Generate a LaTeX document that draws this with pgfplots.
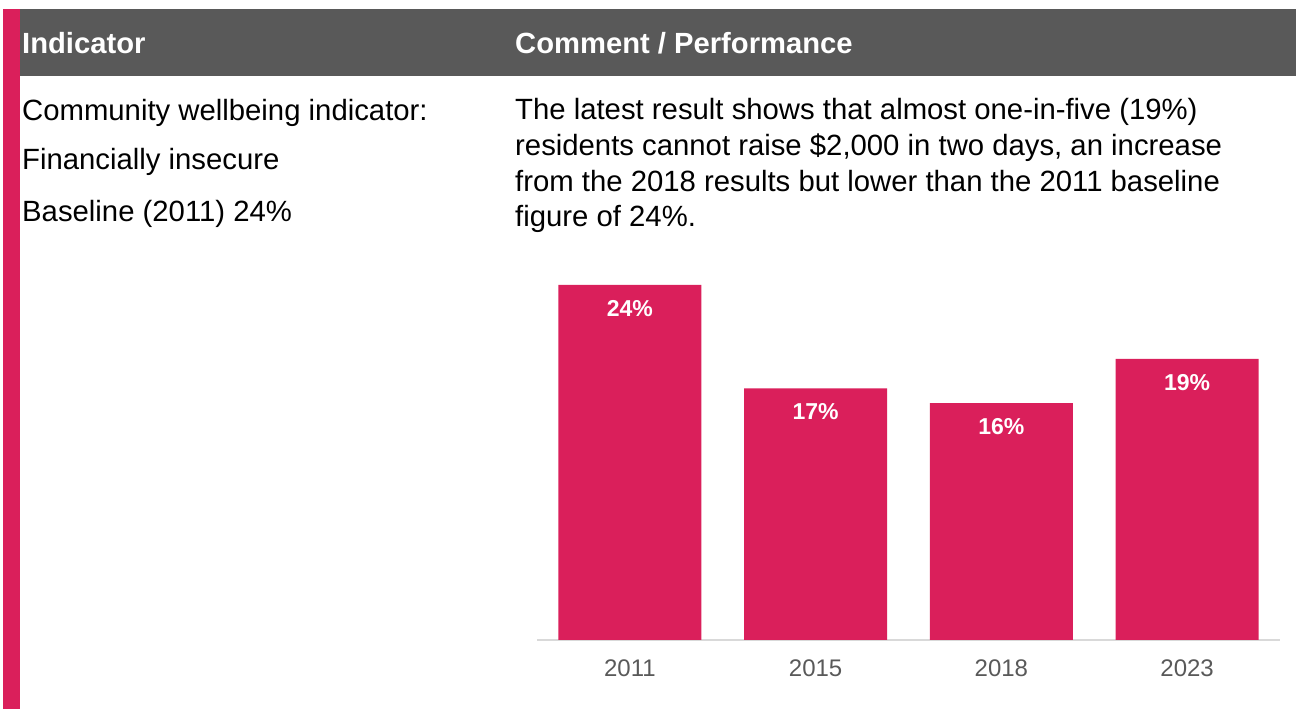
\documentclass[border=0pt]{standalone}
\usepackage{fontspec}
\setmainfont{Liberation Sans}
\usepackage{pgfplots}
\pgfplotsset{compat=1.18}

\definecolor{barpink}{HTML}{DA1F5B}
\definecolor{hdrgray}{HTML}{595959}
\definecolor{axgray}{HTML}{D9D9D9}

\newcommand{\bodyfont}{\fontsize{29.3}{36}\selectfont}
\newcommand{\hdrfont}{\fontsize{29.2}{36}\selectfont\bfseries}

\begin{document}
\begin{tikzpicture}[x=1pt,y=1pt]
  \useasboundingbox (0,0) rectangle (1296,709);
  % frame of the table
  \fill[barpink] (3,0) rectangle (20,700);
  \fill[hdrgray] (20,633) rectangle (1296,700);
  \node[anchor=base west, inner sep=0pt, text=white, font=\hdrfont] at (22,655) {Indicator};
  \node[anchor=base west, inner sep=0pt, text=white, font=\hdrfont] at (515,655) {Comment / Performance};

  % left column
  \node[anchor=base west, inner sep=0pt, font=\bodyfont] at (22,588) {Community wellbeing indicator:};
  \node[anchor=base west, inner sep=0pt, font=\bodyfont] at (22,539) {Financially insecure};
  \node[anchor=base west, inner sep=0pt, font=\bodyfont] at (22,487) {Baseline (2011) 24\%};

  % right column
  \node[anchor=base west, inner sep=0pt, font=\bodyfont] at (515,589) {The latest result shows that almost one-in-five (19\%)};
  \node[anchor=base west, inner sep=0pt, font=\bodyfont] at (515,553) {residents cannot raise \$2,000 in two days, an increase};
  \node[anchor=base west, inner sep=0pt, font=\bodyfont] at (515,517) {from the 2018 results but lower than the 2011 baseline};
  \node[anchor=base west, inner sep=0pt, font=\bodyfont] at (515,482) {figure of 24\%.};

  \begin{axis}[
      at={(537pt,69pt)}, anchor=south west,
      scale only axis, width=743pt, height=370pt,
      xmin=-0.5, xmax=3.5, ymin=0, ymax=25,
      axis y line=none,
      axis x line*=bottom,
      x axis line style={draw=axgray, line width=2pt, -},
      xtick=data,
      xticklabels={2011,2015,2018,2023},
      major tick length=0pt,
      xticklabel style={text=hdrgray, font=\fontsize{24}{28}\selectfont, inner sep=0pt, yshift=-20pt},
      /pgf/number format/assume math mode=true,
      ybar, bar width=143pt,
      nodes near coords={\pgfmathprintnumber{\pgfplotspointmeta}\%},
      every node near coord/.append style={anchor=north, inner sep=0pt, yshift=-15pt,
        text=white, font=\fontsize{23}{28}\selectfont\bfseries},
      clip=false,
    ]
    \addplot[fill=barpink, draw=none] coordinates {(0,24) (1,17) (2,16) (3,19)};
  \end{axis}
\end{tikzpicture}
\end{document}
